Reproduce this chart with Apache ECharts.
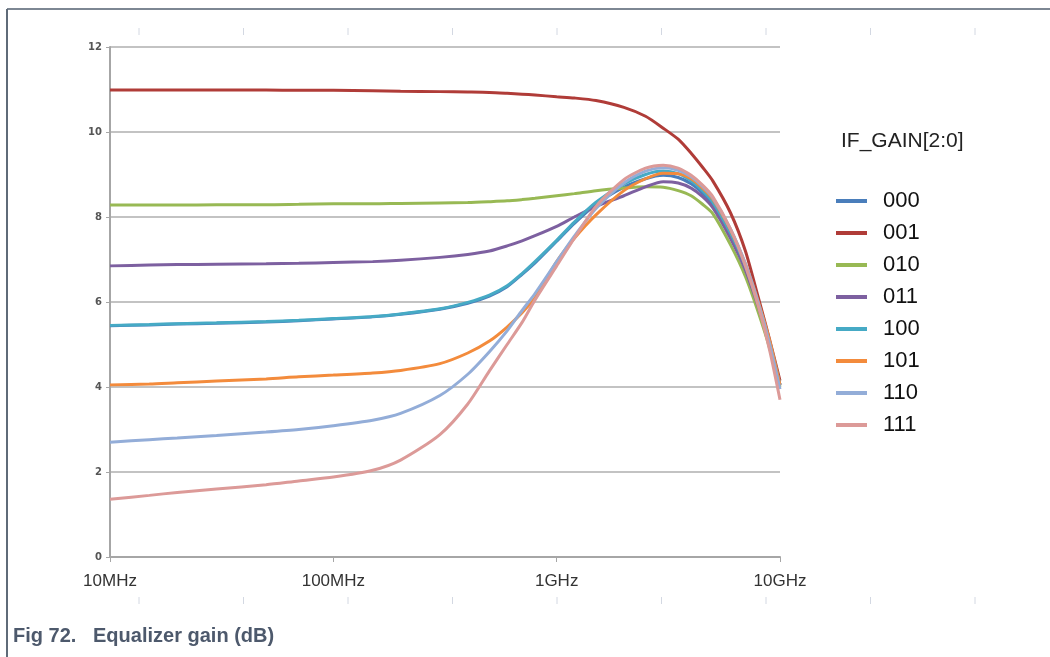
<!DOCTYPE html>
<html>
<head>
<meta charset="utf-8">
<script src="https://cdn.jsdelivr.net/npm/echarts@6/dist/echarts.min.js"></script>
<style>
  html, body { margin: 0; padding: 0; background: #fff; }
  #eqgain { width: 1050px; height: 657px; }
</style>
</head>
<body>
<div id="eqgain"></div>
<script>
// frequency points in MHz (log x axis)
var freqs = [10, 15, 20, 30, 50, 70, 100, 150, 200, 300, 400, 500, 600, 700, 800,
             1000, 1200, 1500, 2000, 2500, 3000, 3500, 4000, 4500, 5000, 6000, 7000, 8000, 9000, 10000];

// gain in dB for each IF_GAIN code
var g000 = [5.44, 5.46, 5.48, 5.5, 5.53, 5.56, 5.6, 5.65, 5.71, 5.83, 5.97, 6.14, 6.36, 6.65, 6.92,
            7.43, 7.85, 8.3, 8.7, 8.9, 8.98, 8.93, 8.78, 8.56, 8.3, 7.58, 6.8, 5.92, 5.02, 4.05];
var g001 = [10.99, 10.99, 10.99, 10.99, 10.99, 10.98, 10.98, 10.97, 10.96, 10.95, 10.94, 10.93, 10.91, 10.89, 10.87,
            10.83, 10.8, 10.74, 10.58, 10.37, 10.09, 9.83, 9.5, 9.17, 8.85, 8.1, 7.2, 6.1, 5.1, 4.15];
var g010 = [8.28, 8.28, 8.28, 8.29, 8.29, 8.3, 8.31, 8.31, 8.32, 8.33, 8.34, 8.36, 8.38, 8.41, 8.44,
            8.5, 8.55, 8.62, 8.68, 8.71, 8.7, 8.62, 8.5, 8.3, 8.08, 7.35, 6.6, 5.75, 4.9, 4.0];
var g011 = [6.85, 6.87, 6.88, 6.89, 6.9, 6.91, 6.93, 6.95, 6.98, 7.05, 7.12, 7.2, 7.32, 7.44, 7.56,
            7.78, 8.0, 8.25, 8.5, 8.71, 8.83, 8.8, 8.68, 8.48, 8.22, 7.5, 6.75, 5.88, 5.0, 4.05];
var g100 = [5.45, 5.47, 5.49, 5.51, 5.54, 5.57, 5.61, 5.66, 5.72, 5.84, 5.99, 6.16, 6.38, 6.67, 6.95,
            7.45, 7.88, 8.35, 8.78, 9.0, 9.08, 9.02, 8.85, 8.62, 8.35, 7.62, 6.85, 5.95, 5.05, 4.05];
var g101 = [4.05, 4.07, 4.1, 4.14, 4.19, 4.24, 4.28, 4.33, 4.39, 4.55, 4.8, 5.08, 5.41, 5.75, 6.1,
            6.95, 7.5, 8.05, 8.62, 8.9, 9.03, 9.02, 8.9, 8.68, 8.42, 7.7, 6.9, 6.0, 5.08, 4.05];
var g110 = [2.7, 2.76, 2.8, 2.86, 2.94, 3.0, 3.09, 3.22, 3.38, 3.8, 4.3, 4.83, 5.32, 5.8, 6.2,
            6.95, 7.55, 8.2, 8.8, 9.08, 9.16, 9.1, 8.95, 8.72, 8.45, 7.72, 6.9, 5.98, 5.0, 3.95];
var g111 = [1.36, 1.45, 1.52, 1.6, 1.7, 1.79, 1.88, 2.04, 2.28, 2.88, 3.6, 4.38, 5.0, 5.52, 6.05,
            6.85, 7.5, 8.25, 8.88, 9.15, 9.22, 9.15, 8.98, 8.75, 8.48, 7.72, 6.85, 5.9, 4.85, 3.7];

var codes = ['000', '001', '010', '011', '100', '101', '110', '111'];
var gains = [g000, g001, g010, g011, g100, g101, g110, g111];
var colors = ['#4a7ebb', '#b03c38', '#98b954', '#7d60a0', '#46aac5', '#f38b3c', '#93add8', '#dc9a98'];

var tickFreqs = [10, 100, 1000, 10000];
var tickLabels = ['10MHz', '100MHz', '1GHz', '10GHz'];
var yTicks = [0, 2, 4, 6, 8, 10, 12];

var chartDom = document.getElementById('eqgain');
var myChart = echarts.init(chartDom);

// faint marks from the page layout (top and bottom rows)
var marks = [];
for (var i = 0; i < 9; i++) {
  var mx = 139 + i * 104.5;
  marks.push({ type: 'line', shape: { x1: mx, y1: 28, x2: mx, y2: 35 }, style: { stroke: '#d3d8e2', lineWidth: 1 } });
  marks.push({ type: 'line', shape: { x1: mx, y1: 597, x2: mx, y2: 604 }, style: { stroke: '#d3d8e2', lineWidth: 1 } });
}

var option = {
  animation: false,
  color: colors,
  title: {
    text: 'IF_GAIN[2:0]',
    left: 836,
    top: 126,
    textStyle: { fontFamily: 'Liberation Sans', fontSize: 21, fontWeight: 'normal', color: '#222' }
  },
  legend: {
    orient: 'vertical',
    left: 831,
    top: 185,
    itemWidth: 31,
    itemHeight: 4,
    itemGap: 10,
    icon: 'rect',
    data: codes,
    textStyle: { fontFamily: 'Liberation Sans', fontSize: 22, color: '#111', padding: [0, 0, 0, 11], lineHeight: 22 }
  },
  grid: {
    left: 110,
    right: 270,
    top: 47,
    bottom: 100
  },
  xAxis: {
    type: 'log',
    logBase: 10,
    min: 10,
    max: 10000,
    axisLine: { show: true, lineStyle: { color: '#a6a6a6', width: 2 } },
    axisTick: { show: true, length: 5, lineStyle: { color: '#a6a6a6' } },
    minorTick: { show: false },
    splitLine: { show: false },
    axisLabel: {
      margin: 16,
      fontFamily: 'Liberation Sans',
      fontSize: 17,
      color: '#333',
      formatter: function (v) {
        var idx = tickFreqs.indexOf(Math.round(v));
        return idx >= 0 ? tickLabels[idx] : '';
      }
    }
  },
  yAxis: {
    type: 'value',
    min: yTicks[0],
    max: yTicks[yTicks.length - 1],
    interval: 2,
    axisLine: { show: true, lineStyle: { color: '#a6a6a6', width: 2 } },
    axisTick: { show: true, length: 4, lineStyle: { color: '#a6a6a6' } },
    splitLine: { show: true, lineStyle: { color: '#c3c3c3', width: 2 } },
    axisLabel: { margin: 8, fontFamily: 'DejaVu Sans', fontSize: 10, fontWeight: 'bold', color: '#555' }
  },
  graphic: [
    { type: 'line', shape: { x1: 7, y1: 9, x2: 1050, y2: 9 }, style: { stroke: '#7d8793', lineWidth: 2 } },
    { type: 'line', shape: { x1: 7, y1: 9, x2: 7, y2: 657 }, style: { stroke: '#5f6b78', lineWidth: 2 } },
    {
      type: 'text',
      left: 13,
      top: 626,
      style: {
        text: 'Fig 72.   Equalizer gain (dB)',
        font: 'bold 20px "Liberation Sans", Arial, sans-serif',
        fill: '#4d596c'
      }
    }
  ].concat(marks),
  series: codes.map(function (c, k) {
    return {
      name: c,
      type: 'line',
      showSymbol: false,
      smooth: 0.25,
      lineStyle: { width: 3, color: colors[k] },
      data: freqs.map(function (f, j) { return [f, gains[k][j]]; })
    };
  })
};

option && myChart.setOption(option);
</script>
</body>
</html>
